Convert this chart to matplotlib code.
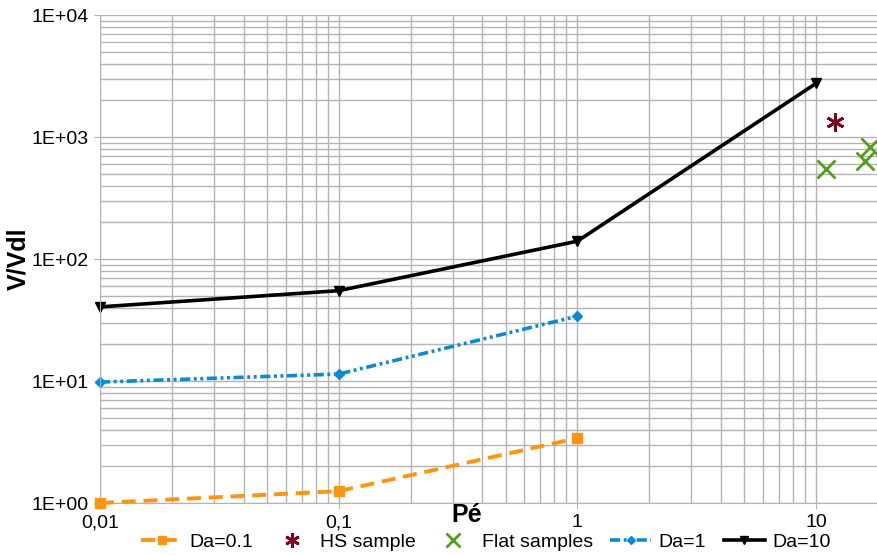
import numpy as np
import matplotlib
matplotlib.use('Agg')
import matplotlib.pyplot as plt
from matplotlib.ticker import FixedLocator, FixedFormatter, LogLocator, NullFormatter

plt.rcParams['font.family'] = ['Liberation Sans', 'DejaVu Sans']

pe = [0.01, 0.1, 1]
pe10 = [0.01, 0.1, 1, 10]
da01 = [1.0, 1.25, 3.4]
da1 = [9.8, 11.4, 34.0]
da10 = [40.5, 55.0, 140.0, 2750.0]

hs_x = [12.0]
hs_y = [1330.0]
flat_x = [11.0, 16.0, 16.8]
flat_y = [545.0, 635.0, 830.0]

xticks = [0.01, 0.1, 1, 10]
xlabels = ['0,01', '0,1', '1', '10']
yticks = [1, 10, 100, 1000, 10000]
ylabels = ['1E+00', '1E+01', '1E+02', '1E+03', '1E+04']

fig = plt.figure(figsize=(8.77, 5.55), dpi=100)
ax = fig.add_axes([100/877, 52/555, 777/877, 488/555])

ax.plot(pe, da01, color='#ff950e', lw=2.8, ls=(0, (3.6, 2)), marker='s', ms=7.5, label='Da=0.1',
        clip_on=False, zorder=3)
ax.plot(hs_x, hs_y, ls='none', color='#7e0021', marker=(6, 2, 0), ms=13, mew=2, label='HS sample')
ax.plot(flat_x, flat_y, ls='none', color='#579d1c', marker='x', ms=13, mew=2, label='Flat samples',
        clip_on=False)
ax.plot(pe, da1, color='#0a8ad6', lw=2.6, ls=(0, (2.8, 1, 0.8, 1, 0.8, 1)), marker='D', ms=5.5,
        label='Da=1', clip_on=False)
ax.plot(pe10, da10, color='black', lw=2.6, marker='v', ms=7, label='Da=10', clip_on=False)

ax.set_xscale('log')
ax.set_yscale('log')
ax.set_xlim(0.01, 18)
ax.set_ylim(1, 10000)

ax.xaxis.set_major_locator(FixedLocator(xticks))
ax.xaxis.set_major_formatter(FixedFormatter(xlabels))
ax.xaxis.set_minor_locator(LogLocator(base=10, subs=np.arange(2, 10), numticks=20))
ax.xaxis.set_minor_formatter(NullFormatter())
ax.yaxis.set_major_locator(FixedLocator(yticks))
ax.yaxis.set_major_formatter(FixedFormatter(ylabels))
ax.yaxis.set_minor_locator(LogLocator(base=10, subs=np.arange(2, 10), numticks=20))
ax.yaxis.set_minor_formatter(NullFormatter())

ax.grid(True, which='both', color='#b3b3b3', lw=1)
ax.set_axisbelow(True)
for s in ['top', 'right']:
    ax.spines[s].set_visible(False)
for s in ['left', 'bottom']:
    ax.spines[s].set_color('#b3b3b3')
ax.tick_params(which='major', length=4, color='#b3b3b3', labelsize=14, pad=4)
ax.tick_params(which='minor', length=0)

fig.text(467/877, 1 - 515/555, 'Pé', fontsize=18, fontweight='bold', ha='center', va='center')
fig.text(18/877, 1 - 259/555, 'V/Vdl', fontsize=18, fontweight='bold', ha='center', va='center',
         rotation=90)

fig.legend(loc='center', bbox_to_anchor=(486/877, 1 - 542/555), ncol=5, frameon=False,
           fontsize=14, handlelength=2.1, handletextpad=0.4, columnspacing=0.9,
           borderaxespad=0, borderpad=0, markerscale=0.8)

plt.savefig('out.png', dpi=100)
